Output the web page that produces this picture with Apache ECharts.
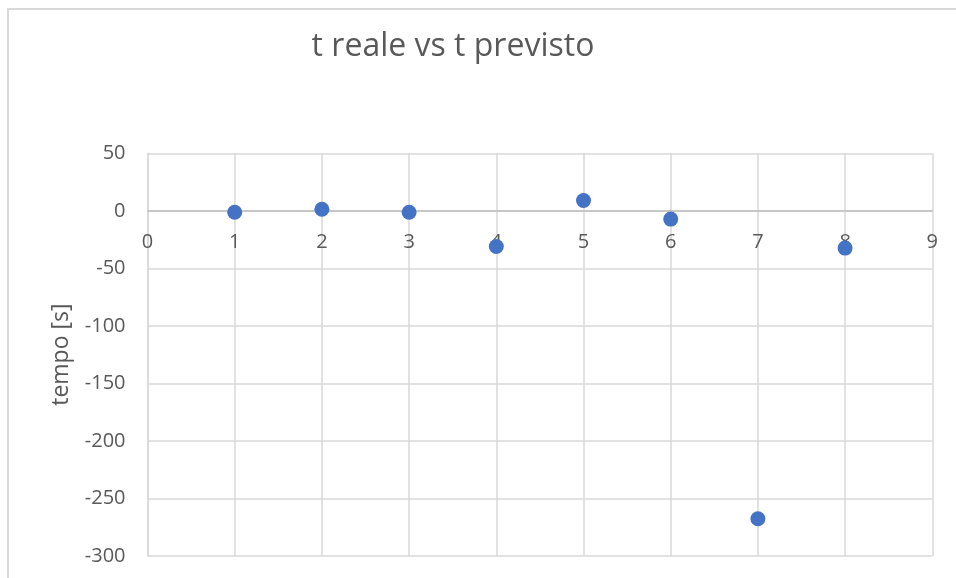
<!DOCTYPE html>
<html>
<head>
<meta charset="utf-8">
<script src="https://cdn.jsdelivr.net/npm/echarts@6/dist/echarts.min.js"></script>
<style>
  html, body { margin: 0; padding: 0; background: #ffffff; }
  #chart { width: 956px; height: 578px; }
</style>
</head>
<body>
<div id="chart"></div>
<script>
// Measurement index and difference between real and predicted time (seconds)
const xValues = [1, 2, 3, 4, 5, 6, 7, 8];
const yValues = [-1.2, 1.4, -1.2, -31, 9, -7.2, -267.6, -32.4];

const titleText = 't reale vs t previsto';
const yAxisName = 'tempo [s]';

const yMin = -300;
const yMax = 50;

const textColor = '#595959';
const fontFamily = '"Open Sans", "Liberation Sans", sans-serif';

// plot area in pixels
const gridTop = 153.3;
const gridBottom = 22;
const chartHeight = 578;
const plotHeight = chartHeight - gridTop - gridBottom;
// x axis sits on y = 0: shift it up from the bottom edge by the matching distance
const zeroOffset = -plotHeight * (0 - yMin) / (yMax - yMin);

const chart = echarts.init(document.getElementById('chart'), null, { renderer: 'canvas' });

chart.setOption({
  animation: false,
  backgroundColor: '#ffffff',
  graphic: [{
    type: 'polyline',
    shape: { points: [[8, 600], [8, 9], [960, 9]] },
    style: { fill: 'none', stroke: '#d9d9d9', lineWidth: 2 },
    silent: true
  }],
  title: {
    text: titleText,
    left: 448,
    textAlign: 'center',
    top: 26,
    textStyle: { color: textColor, fontFamily: fontFamily, fontSize: 32, fontWeight: 'normal' }
  },
  grid: { left: 147.5, right: 23.7, top: gridTop, bottom: gridBottom, outerBoundsMode: 'none', containLabel: false },
  xAxis: {
    type: 'value',
    min: 0,
    max: 9,
    interval: 1,
    position: 'bottom',
    offset: zeroOffset,
    axisLine: { onZero: false, lineStyle: { color: '#bfbfbf', width: 1.5 } },
    axisTick: { show: false },
    axisLabel: { color: textColor, fontFamily: fontFamily, fontSize: 20, margin: 21 },
    splitLine: { show: true, lineStyle: { color: '#d9d9d9', width: 1.5 } }
  },
  yAxis: {
    type: 'value',
    min: yMin,
    max: yMax,
    interval: 50,
    name: yAxisName,
    nameLocation: 'middle',
    nameGap: 75,
    nameTextStyle: { color: textColor, fontFamily: fontFamily, fontSize: 23 },
    axisLine: { show: true, lineStyle: { color: '#d9d9d9', width: 1.5 } },
    axisTick: { show: false },
    axisLabel: { color: textColor, fontFamily: fontFamily, fontSize: 20, margin: 22 },
    splitLine: { show: true, lineStyle: { color: '#d9d9d9', width: 1.5 } }
  },
  series: [{
    type: 'scatter',
    symbol: 'circle',
    symbolSize: 15,
    z: 5,
    itemStyle: { color: '#4472c4', opacity: 1 },
    data: xValues.map((x, i) => [x, yValues[i]])
  }]
});
</script>
</body>
</html>
